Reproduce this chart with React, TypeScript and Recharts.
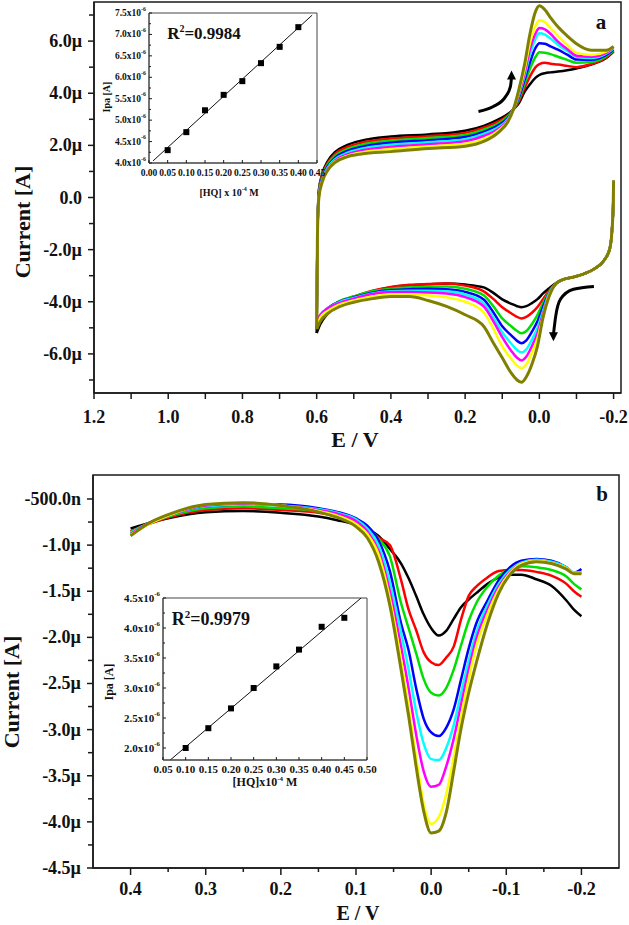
import React from 'react'
import { LineChart, Line, XAxis, YAxis, ReferenceArea, ComposedChart, Scatter } from 'recharts'

const SERIF = '"Liberation Serif", "Times New Roman", serif'
const INK = '#1a1a1a'

// curve order: black, red, green, blue, cyan, magenta, yellow, olive
const curveColors = ['#000000', '#ff0000', '#00e000', '#0000ff', '#00ffff', '#ff00ff', '#ffff00', '#808000']
const curveWidths = [2.5, 2.5, 2.5, 2.5, 2.5, 2.5, 2.5, 3]

// ---- panel a : cyclic voltammograms (current in µA) ----
const cvUpperE = [0.6, 0.598, 0.594, 0.585, 0.57, 0.55, 0.52, 0.48, 0.4, 0.3, 0.2, 0.15, 0.11, 0.085, 0.07, 0.055, 0.04, 0.025, 0.01, 0.0, -0.015, -0.03, -0.05, -0.075, -0.1, -0.14, -0.18, -0.2]
const cvUpper = [
  [-5.2, -1.5, 0.3, 0.9, 1.4, 1.75, 2.0, 2.18, 2.34, 2.42, 2.56, 2.75, 3.0, 3.2, 3.38, 3.62, 4.05, 4.35, 4.6, 4.7, 4.77, 4.8, 4.83, 4.88, 4.95, 5.1, 5.35, 5.6],
  [-5.0, -1.5, 0.25, 0.85, 1.33, 1.68, 1.92, 2.1, 2.26, 2.35, 2.48, 2.68, 2.92, 3.15, 3.38, 3.7, 4.2, 4.65, 5.0, 5.12, 5.17, 5.13, 5.1, 5.05, 5.0, 5.12, 5.37, 5.62],
  [-4.9, -1.5, 0.2, 0.8, 1.27, 1.6, 1.84, 2.02, 2.18, 2.28, 2.4, 2.6, 2.85, 3.1, 3.38, 3.78, 4.35, 4.95, 5.4, 5.57, 5.55, 5.5, 5.4, 5.28, 5.17, 5.2, 5.42, 5.65],
  [-4.85, -1.5, 0.15, 0.75, 1.2, 1.53, 1.77, 1.94, 2.1, 2.2, 2.32, 2.52, 2.78, 3.05, 3.38, 3.85, 4.5, 5.2, 5.75, 5.92, 5.9, 5.8, 5.67, 5.48, 5.29, 5.28, 5.47, 5.68],
  [-4.8, -1.5, 0.1, 0.7, 1.15, 1.47, 1.7, 1.87, 2.02, 2.12, 2.24, 2.44, 2.7, 3.0, 3.38, 3.92, 4.65, 5.5, 6.1, 6.3, 6.25, 6.1, 5.86, 5.62, 5.4, 5.35, 5.52, 5.72],
  [-4.75, -1.5, 0.07, 0.67, 1.1, 1.42, 1.64, 1.8, 1.94, 2.04, 2.16, 2.36, 2.64, 2.96, 3.38, 3.98, 4.75, 5.7, 6.3, 6.5, 6.45, 6.28, 5.98, 5.7, 5.44, 5.4, 5.55, 5.75],
  [-4.9, -1.5, 0.03, 0.63, 1.07, 1.38, 1.59, 1.73, 1.86, 1.96, 2.06, 2.24, 2.57, 2.93, 3.38, 4.05, 4.9, 5.95, 6.6, 6.8, 6.72, 6.5, 6.2, 5.85, 5.55, 5.47, 5.6, 5.78],
  [-5.05, -1.5, 0.0, 0.6, 1.05, 1.35, 1.55, 1.67, 1.76, 1.88, 1.97, 2.15, 2.5, 2.9, 3.38, 4.15, 5.1, 6.3, 7.15, 7.36, 7.2, 6.9, 6.55, 6.2, 5.9, 5.65, 5.65, 5.8],
]

const cvLowerE = [-0.2, -0.199, -0.196, -0.19, -0.175, -0.15, -0.12, -0.09, -0.065, -0.045, -0.025, -0.01, 0.005, 0.02, 0.035, 0.048, 0.06, 0.075, 0.1, 0.125, 0.15, 0.2, 0.25, 0.3, 0.35, 0.4, 0.45, 0.5, 0.54, 0.57, 0.59, 0.6]
const cvLower = [
  [0.65, -0.3, -1.2, -1.95, -2.4, -2.72, -2.93, -3.06, -3.14, -3.28, -3.5, -3.68, -3.9, -4.05, -4.17, -4.21, -4.17, -4.08, -3.91, -3.65, -3.45, -3.34, -3.3, -3.33, -3.37, -3.45, -3.6, -3.85, -4.05, -4.45, -4.85, -5.2],
  [0.65, -0.3, -1.2, -1.95, -2.4, -2.72, -2.93, -3.06, -3.14, -3.3, -3.6, -3.9, -4.2, -4.42, -4.58, -4.64, -4.58, -4.45, -4.21, -3.88, -3.6, -3.38, -3.3, -3.32, -3.35, -3.43, -3.58, -3.8, -4.0, -4.3, -4.6, -5.0],
  [0.65, -0.3, -1.2, -1.95, -2.4, -2.72, -2.93, -3.06, -3.14, -3.3, -3.65, -4.05, -4.5, -4.85, -5.12, -5.21, -5.12, -4.95, -4.64, -4.15, -3.75, -3.5, -3.41, -3.42, -3.45, -3.5, -3.6, -3.8, -3.98, -4.25, -4.55, -4.9],
  [0.65, -0.3, -1.2, -1.95, -2.4, -2.72, -2.93, -3.06, -3.14, -3.3, -3.7, -4.2, -4.75, -5.15, -5.48, -5.59, -5.5, -5.3, -4.94, -4.38, -3.91, -3.62, -3.52, -3.5, -3.52, -3.55, -3.65, -3.83, -4.0, -4.25, -4.55, -4.85],
  [0.65, -0.3, -1.2, -1.95, -2.4, -2.72, -2.93, -3.06, -3.14, -3.3, -3.72, -4.35, -5.0, -5.45, -5.82, -5.94, -5.85, -5.62, -5.17, -4.58, -4.06, -3.72, -3.6, -3.58, -3.58, -3.6, -3.68, -3.85, -4.02, -4.25, -4.5, -4.8],
  [0.65, -0.3, -1.2, -1.95, -2.4, -2.72, -2.93, -3.06, -3.14, -3.3, -3.75, -4.45, -5.2, -5.7, -6.1, -6.25, -6.15, -5.9, -5.36, -4.72, -4.18, -3.82, -3.68, -3.64, -3.63, -3.63, -3.7, -3.88, -4.05, -4.25, -4.5, -4.75],
  [0.65, -0.3, -1.2, -1.95, -2.4, -2.72, -2.93, -3.06, -3.14, -3.3, -3.78, -4.55, -5.4, -5.95, -6.4, -6.55, -6.45, -6.2, -5.71, -5.0, -4.41, -4.0, -3.83, -3.76, -3.72, -3.73, -3.8, -3.95, -4.12, -4.35, -4.6, -4.9],
  [0.65, -0.3, -1.2, -1.95, -2.4, -2.72, -2.93, -3.06, -3.14, -3.3, -3.85, -4.6, -5.7, -6.4, -6.88, -7.09, -7.0, -6.75, -6.15, -5.55, -4.94, -4.5, -4.18, -3.95, -3.8, -3.8, -3.88, -4.02, -4.2, -4.45, -4.75, -5.05],
]

// scan direction arrows
const arrowUpE = [0.164, 0.124, 0.091, 0.078, 0.075]
const arrowUpI = [3.3, 3.49, 3.87, 4.25, 4.6]
const arrowDownE = [-0.147, -0.092, -0.057, -0.044, -0.038]
const arrowDownI = [-3.41, -3.52, -3.9, -4.56, -5.25]

const cvEMajor = [1.2, 1.0, 0.8, 0.6, 0.4, 0.2, 0.0, -0.2]
const cvEMinor = [1.1, 0.9, 0.7, 0.5, 0.3, 0.1, -0.1]
const cvIMajor = [6, 4, 2, 0, -2, -4, -6]
const cvIMinor = [7, 5, 3, 1, -1, -3, -5, -7]

// ---- panel b : differential pulse voltammograms (µA) ----
const dpvE = [0.4, 0.375, 0.35, 0.3, 0.25, 0.2, 0.15, 0.125, 0.1, 0.085, 0.07, 0.055, 0.04, 0.03, 0.02, 0.01, 0.0, -0.01, -0.02, -0.03, -0.04, -0.05, -0.06, -0.075, -0.09, -0.105, -0.12, -0.14, -0.16, -0.18, -0.19, -0.2]
const dpv = [
  [-0.82, -0.76, -0.71, -0.645, -0.63, -0.65, -0.69, -0.73, -0.78, -0.83, -0.9, -1.04, -1.2, -1.36, -1.55, -1.75, -1.9, -1.98, -1.93, -1.8, -1.67, -1.59, -1.52, -1.42, -1.35, -1.32, -1.32, -1.37, -1.44, -1.6, -1.7, -1.77],
  [-0.85, -0.77, -0.7, -0.62, -0.6, -0.62, -0.65, -0.69, -0.75, -0.82, -0.92, -1.0, -1.38, -1.7, -1.92, -2.16, -2.27, -2.3, -2.22, -2.1, -1.8, -1.55, -1.45, -1.35, -1.28, -1.27, -1.27, -1.29, -1.33, -1.42, -1.5, -1.56],
  [-0.86, -0.76, -0.69, -0.6, -0.58, -0.6, -0.63, -0.67, -0.73, -0.8, -0.93, -1.12, -1.63, -1.9, -2.17, -2.45, -2.6, -2.63, -2.55, -2.35, -2.08, -1.82, -1.63, -1.45, -1.33, -1.26, -1.23, -1.24, -1.27, -1.34, -1.42, -1.48],
  [-0.88, -0.76, -0.68, -0.58, -0.56, -0.56, -0.6, -0.64, -0.71, -0.79, -0.95, -1.28, -1.85, -2.14, -2.55, -2.88, -3.03, -3.07, -2.98, -2.78, -2.45, -2.12, -1.85, -1.6, -1.38, -1.24, -1.17, -1.15, -1.17, -1.24, -1.3, -1.26],
  [-0.87, -0.76, -0.68, -0.58, -0.56, -0.57, -0.61, -0.65, -0.72, -0.82, -1.0, -1.4, -1.95, -2.35, -2.8, -3.15, -3.32, -3.33, -3.2, -2.95, -2.6, -2.25, -1.95, -1.65, -1.42, -1.27, -1.19, -1.16, -1.18, -1.24, -1.3, -1.3],
  [-0.88, -0.76, -0.68, -0.57, -0.55, -0.57, -0.62, -0.66, -0.74, -0.85, -1.06, -1.5, -2.1, -2.55, -3.05, -3.45, -3.62, -3.6, -3.4, -3.1, -2.72, -2.35, -2.02, -1.7, -1.45, -1.29, -1.2, -1.17, -1.19, -1.25, -1.3, -1.3],
  [-0.89, -0.77, -0.68, -0.56, -0.54, -0.57, -0.63, -0.68, -0.77, -0.88, -1.1, -1.58, -2.25, -2.75, -3.3, -3.8, -4.02, -3.95, -3.7, -3.3, -2.85, -2.45, -2.1, -1.75, -1.48, -1.3, -1.2, -1.17, -1.19, -1.25, -1.3, -1.3],
  [-0.9, -0.76, -0.67, -0.56, -0.54, -0.57, -0.64, -0.7, -0.8, -0.92, -1.18, -1.65, -2.35, -2.85, -3.4, -3.88, -4.12, -4.1, -3.9, -3.45, -2.98, -2.6, -2.28, -1.85, -1.52, -1.32, -1.22, -1.18, -1.2, -1.26, -1.31, -1.31],
]
const dpvEMajor = [0.4, 0.3, 0.2, 0.1, 0.0, -0.1, -0.2]
const dpvEMinor = [0.35, 0.25, 0.15, 0.05, -0.05, -0.15]
const dpvIMajor = [-0.5, -1.0, -1.5, -2.0, -2.5, -3.0, -3.5, -4.0, -4.5]
const dpvIMinor = [-0.75, -1.25, -1.75, -2.25, -2.75, -3.25, -3.75, -4.25]

// ---- insets : Ipa vs [HQ] (x10^-6 A) ----
const insetAConc = [0.05, 0.1, 0.15, 0.2, 0.25, 0.3, 0.35, 0.4]
const insetAIpa = [4.3, 4.72, 5.23, 5.59, 5.91, 6.33, 6.71, 7.17]
const insetAFitX = [0.011, 0.437]
const insetAFitY = [4.05, 7.45]
const insetAXTicks = [0, 0.05, 0.1, 0.15, 0.2, 0.25, 0.3, 0.35, 0.4, 0.45]
const insetAYMajor = [4.0, 4.5, 5.0, 5.5, 6.0, 6.5, 7.0, 7.5]
const insetAYMinor = [4.25, 4.75, 5.25, 5.75, 6.25, 6.75, 7.25]

const insetBConc = [0.1, 0.15, 0.2, 0.25, 0.3, 0.35, 0.4, 0.45]
const insetBIpa = [2.0, 2.33, 2.66, 3.0, 3.36, 3.64, 4.02, 4.17]
const insetBFitX = [0.066, 0.487]
const insetBFitY = [1.8, 4.5]
const insetBXTicks = [0.05, 0.1, 0.15, 0.2, 0.25, 0.3, 0.35, 0.4, 0.45, 0.5]
const insetBYMajor = [2.0, 2.5, 3.0, 3.5, 4.0, 4.5]
const insetBYMinor = [2.25, 2.75, 3.25, 3.75, 4.25]

const rows = (xs: number[], ys: number[]) => xs.map((x, k) => ({ x, y: ys[k] }))

function fmtCurrent(v: number) {
  if (Math.abs(v) < 1e-9) return '0.0'
  if (Math.abs(v) < 1) return `${(v * 1000).toFixed(1)}n`
  return `${v.toFixed(1)}µ`
}

function isIn(list: number[], v: number) {
  return list.some((m) => Math.abs(m - v) < 1e-9)
}

const BottomTick = (props: any) => {
  const { x = 0, y = 0, payload, majors, fmt, fontSize, majorLen, minorLen, gap, inward, width = 1.3 } = props
  const v = payload ? payload.value : 0
  const major = isIn(majors, v)
  const len = major ? majorLen : minorLen
  const dir = inward ? -1 : 1
  return (
    <g>
      {len > 0 && <line x1={x} y1={y} x2={x} y2={y + dir * len} stroke={INK} strokeWidth={width} />}
      {major && (
        <text x={x} y={y + gap} textAnchor="middle" dominantBaseline="central" fontFamily={SERIF} fontWeight="bold" fontSize={fontSize} fill="#111">
          {fmt(v)}
        </text>
      )}
    </g>
  )
}

const LeftTick = (props: any) => {
  const { x = 0, y = 0, payload, majors, fmt, fontSize, majorLen, minorLen, gap, inward, sup, width = 1.3 } = props
  const v = payload ? payload.value : 0
  const major = isIn(majors, v)
  const len = major ? majorLen : minorLen
  const dir = inward ? 1 : -1
  return (
    <g>
      {len > 0 && <line x1={x} y1={y} x2={x + dir * len} y2={y} stroke={INK} strokeWidth={width} />}
      {major && (
        <text x={x - gap} y={y} textAnchor="end" dominantBaseline="central" fontFamily={SERIF} fontWeight="bold" fontSize={fontSize} fill="#111">
          {fmt(v)}
          {sup && (
            <tspan dy={-fontSize * 0.45} fontSize={fontSize * 0.62}>
              {sup}
            </tspan>
          )}
        </text>
      )}
    </g>
  )
}

const arrowHead = (dir: 'up' | 'down', last: number) => (p: any) => {
  if (p.index !== last) return <g key={`a${p.index}`} />
  const s = dir === 'up' ? -1 : 1
  return (
    <path
      key={`a${p.index}`}
      d={`M${p.cx},${p.cy + s * 7} L${p.cx - 4.5},${p.cy - s * 2} L${p.cx + 4.5},${p.cy - s * 2} Z`}
      fill="#000"
    />
  )
}

const square = (p: any) => <rect x={p.cx - 3} y={p.cy - 3} width={6} height={6} fill="#000" />

const abs = (left: number, top: number, extra?: React.CSSProperties): React.CSSProperties => ({
  position: 'absolute',
  left,
  top,
  fontFamily: SERIF,
  fontWeight: 'bold',
  color: '#111',
  whiteSpace: 'nowrap',
  transform: 'translate(-50%, -50%)',
  lineHeight: 1,
  ...extra,
})

function PanelA() {
  return (
    <LineChart width={629} height={450} margin={{ top: 2, right: 8, bottom: 0, left: 0 }}>
      <XAxis
        dataKey="x"
        type="number"
        domain={[-0.22, 1.2]}
        reversed
        allowDataOverflow
        ticks={[...cvEMajor, ...cvEMinor]}
        interval={0}
        height={57}
        tickLine={false}
        tickSize={0}
        tickMargin={0}
        axisLine={{ stroke: INK, strokeWidth: 1.5 }}
        tick={<BottomTick majors={cvEMajor} fmt={(v: number) => v.toFixed(1)} fontSize={18} majorLen={6} minorLen={6} gap={24} width={1.5} />}
      />
      <YAxis
        type="number"
        domain={[-7.5, 7.5]}
        allowDataOverflow
        ticks={[...cvIMajor, ...cvIMinor]}
        interval={0}
        width={94}
        tickLine={false}
        tickSize={0}
        tickMargin={0}
        axisLine={{ stroke: INK, strokeWidth: 1.5 }}
        tick={<LeftTick majors={cvIMajor} fmt={fmtCurrent} fontSize={18} majorLen={6} minorLen={5} gap={12} width={1.5} />}
      />
      <ReferenceArea x1={1.2} x2={-0.22} y1={-7.5} y2={7.5} fill="none" stroke={INK} strokeWidth={1.5} ifOverflow="visible" />
      {curveColors.map((c, k) => (
        <Line
          key={`lo${k}`}
          data={rows(cvLowerE, cvLower[k])}
          dataKey="y"
          type="monotone"
          stroke={c}
          strokeWidth={curveWidths[k]}
          dot={false}
          activeDot={false}
          isAnimationActive={false}
        />
      ))}
      {curveColors.map((c, k) => (
        <Line
          key={`up${k}`}
          data={rows(cvUpperE, cvUpper[k])}
          dataKey="y"
          type="monotone"
          stroke={c}
          strokeWidth={curveWidths[k]}
          dot={false}
          activeDot={false}
          isAnimationActive={false}
        />
      ))}
      <Line
        data={rows(arrowUpE, arrowUpI)}
        dataKey="y"
        type="monotone"
        stroke="#000"
        strokeWidth={3}
        dot={arrowHead('up', arrowUpE.length - 1)}
        activeDot={false}
        isAnimationActive={false}
      />
      <Line
        data={rows(arrowDownE, arrowDownI)}
        dataKey="y"
        type="monotone"
        stroke="#000"
        strokeWidth={3}
        dot={arrowHead('down', arrowDownE.length - 1)}
        activeDot={false}
        isAnimationActive={false}
      />
    </LineChart>
  )
}

function PanelB() {
  return (
    <LineChart width={629} height={465} margin={{ top: 15, right: 10, bottom: 0, left: 0 }}>
      <XAxis
        dataKey="x"
        type="number"
        domain={[-0.25, 0.45]}
        reversed
        allowDataOverflow
        ticks={[...dpvEMajor, ...dpvEMinor]}
        interval={0}
        height={57}
        tickLine={false}
        tickSize={0}
        tickMargin={0}
        axisLine={{ stroke: INK, strokeWidth: 1.5 }}
        tick={<BottomTick majors={dpvEMajor} fmt={(v: number) => v.toFixed(1)} fontSize={18} majorLen={7} minorLen={4} gap={21} width={1.5} />}
      />
      <YAxis
        type="number"
        domain={[-4.5, -0.24]}
        allowDataOverflow
        ticks={[...dpvIMajor, ...dpvIMinor]}
        interval={0}
        width={93}
        tickLine={false}
        tickSize={0}
        tickMargin={0}
        axisLine={{ stroke: INK, strokeWidth: 1.5 }}
        tick={<LeftTick majors={dpvIMajor} fmt={fmtCurrent} fontSize={18} majorLen={6} minorLen={5} gap={12} width={1.5} />}
      />
      <ReferenceArea x1={0.45} x2={-0.25} y1={-4.5} y2={-0.24} fill="none" stroke={INK} strokeWidth={1.5} ifOverflow="visible" />
      {curveColors.map((c, k) => (
        <Line
          key={`d${k}`}
          data={rows(dpvE, dpv[k])}
          dataKey="y"
          type="monotone"
          stroke={c}
          strokeWidth={curveWidths[k]}
          dot={false}
          activeDot={false}
          isAnimationActive={false}
        />
      ))}
    </LineChart>
  )
}

function Inset(props: {
  width: number
  height: number
  margin: { top: number; right: number; bottom: number; left: number }
  yWidth: number
  xHeight: number
  xDomain: [number, number]
  yDomain: [number, number]
  xTicks: number[]
  yMajor: number[]
  yMinor: number[]
  conc: number[]
  ipa: number[]
  fitX: number[]
  fitY: number[]
  fontSize: number
  xGap: number
}) {
  const p = props
  return (
    <ComposedChart width={p.width} height={p.height} margin={p.margin}>
      <XAxis
        dataKey="x"
        type="number"
        domain={p.xDomain}
        allowDataOverflow
        ticks={p.xTicks}
        interval={0}
        height={p.xHeight}
        tickLine={false}
        tickSize={0}
        tickMargin={0}
        axisLine={{ stroke: '#444', strokeWidth: 1 }}
        tick={<BottomTick majors={p.xTicks} fmt={(v: number) => v.toFixed(2)} fontSize={p.fontSize} majorLen={3} minorLen={0} gap={p.xGap} inward width={1} />}
      />
      <YAxis
        type="number"
        domain={p.yDomain}
        allowDataOverflow
        ticks={[...p.yMajor, ...p.yMinor]}
        interval={0}
        width={p.yWidth}
        tickLine={false}
        tickSize={0}
        tickMargin={0}
        axisLine={{ stroke: '#444', strokeWidth: 1 }}
        tick={<LeftTick majors={p.yMajor} fmt={(v: number) => `${v.toFixed(1)}x10`} sup="-6" fontSize={p.fontSize} majorLen={3} minorLen={2} gap={3} inward width={1} />}
      />
      <ReferenceArea x1={p.xDomain[0]} x2={p.xDomain[1]} y1={p.yDomain[0]} y2={p.yDomain[1]} fill="none" stroke="#444" strokeWidth={1} ifOverflow="visible" />
      <Line data={rows(p.fitX, p.fitY)} dataKey="y" type="linear" stroke="#111" strokeWidth={1} dot={false} activeDot={false} isAnimationActive={false} />
      <Scatter data={rows(p.conc, p.ipa)} dataKey="y" shape={square} isAnimationActive={false} />
    </ComposedChart>
  )
}

export default function App() {
  return (
    <div style={{ position: 'relative', width: 629, height: 925, background: '#fff', overflow: 'hidden' }}>
      <style>{'body{margin:0;background:#fff}'}</style>

      <div style={{ position: 'absolute', left: 0, top: 0 }}>
        <PanelA />
      </div>
      <div style={{ position: 'absolute', left: 0, top: 460 }}>
        <PanelB />
      </div>

      <div style={{ position: 'absolute', left: 0, top: 0 }}>
        <Inset
          width={330}
          height={210}
          margin={{ top: 13, right: 13, bottom: 0, left: 0 }}
          yWidth={149}
          xHeight={47}
          xDomain={[0, 0.45]}
          yDomain={[4.0, 7.5]}
          xTicks={insetAXTicks}
          yMajor={insetAYMajor}
          yMinor={insetAYMinor}
          conc={insetAConc}
          ipa={insetAIpa}
          fitX={insetAFitX}
          fitY={insetAFitY}
          fontSize={9.5}
          xGap={10}
        />
      </div>
      <div style={{ position: 'absolute', left: 0, top: 585 }}>
        <Inset
          width={380}
          height={215}
          margin={{ top: 13, right: 13, bottom: 0, left: 0 }}
          yWidth={163}
          xHeight={40}
          xDomain={[0.05, 0.5]}
          yDomain={[1.8, 4.5]}
          xTicks={insetBXTicks}
          yMajor={insetBYMajor}
          yMinor={insetBYMinor}
          conc={insetBConc}
          ipa={insetBIpa}
          fitX={insetBFitX}
          fitY={insetBFitY}
          fontSize={11}
          xGap={9}
        />
      </div>

      {/* axis titles and labels */}
      <div style={abs(23, 222, { fontSize: 22, transform: 'translate(-50%, -50%) rotate(-90deg)' })}>Current [A]</div>
      <div style={abs(355, 440, { fontSize: 22 })}>E / V</div>
      <div style={abs(601, 22, { fontSize: 21 })}>a</div>

      <div style={abs(12, 692, { fontSize: 22, transform: 'translate(-50%, -50%) rotate(-90deg)' })}>Current [A]</div>
      <div style={abs(358, 913, { fontSize: 20 })}>E / V</div>
      <div style={abs(602, 494, { fontSize: 21 })}>b</div>

      <div style={abs(107, 97, { fontSize: 10, transform: 'translate(-50%, -50%) rotate(-90deg)' })}>Ipa [A]</div>
      <div style={abs(229, 192, { fontSize: 10 })}>
        [HQ] x 10<sup style={{ fontSize: 6 }}>-4</sup> M
      </div>
      <div style={abs(204, 33, { fontSize: 17 })}>
        R<sup style={{ fontSize: 10 }}>2</sup>=0.9984
      </div>

      <div style={abs(109, 682, { fontSize: 12, transform: 'translate(-50%, -50%) rotate(-90deg)' })}>Ipa [A]</div>
      <div style={abs(265, 782, { fontSize: 12 })}>
        [HQ]x10<sup style={{ fontSize: 7 }}>-4</sup> M
      </div>
      <div style={abs(211, 618, { fontSize: 18 })}>
        R<sup style={{ fontSize: 11 }}>2</sup>=0.9979
      </div>
    </div>
  )
}
